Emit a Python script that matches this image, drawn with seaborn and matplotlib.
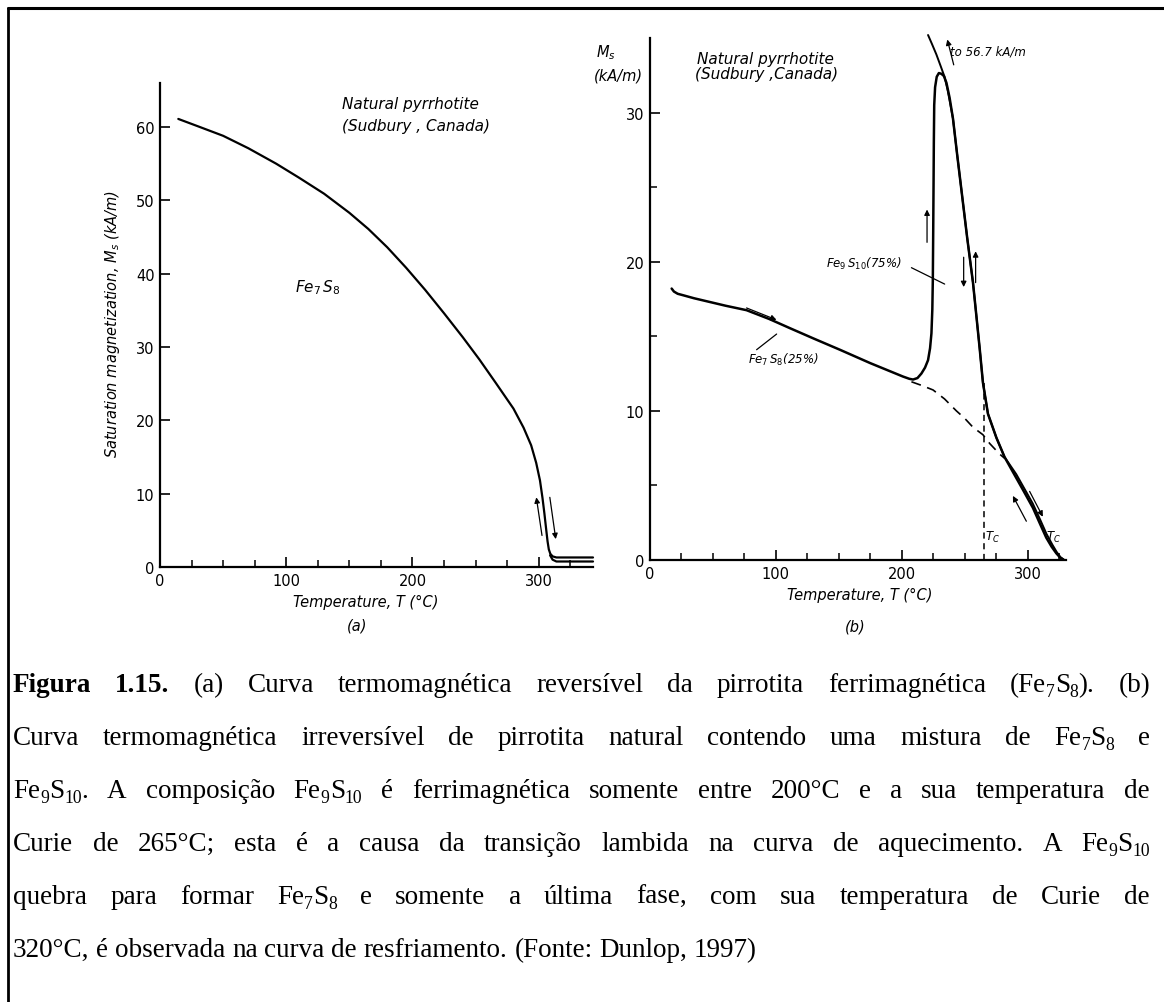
import re
import numpy as np
import pandas as pd
import matplotlib
matplotlib.use("Agg")
import matplotlib.pyplot as plt
from matplotlib.lines import Line2D
import seaborn as sns

sns.set_theme(style="ticks")
plt.rcParams['font.family'] = ['DejaVu Sans']
plt.rcParams['mathtext.fontset'] = 'dejavusans'

# ---------------- data: panel (a) ----------------
a_T = [14.5, 30, 50, 70, 92, 110, 130, 150, 165, 180, 195, 210, 225, 240, 253, 266,
       280, 288, 294, 298, 301, 303, 304.5, 305.8, 307, 308, 309.2, 311, 314, 320, 343]
a_M = [61.1, 60.1, 58.8, 57.1, 55.0, 53.1, 50.9, 48.3, 46.1, 43.6, 40.8, 37.8, 34.6,
       31.3, 28.3, 25.1, 21.6, 19.0, 16.6, 14.2, 11.8, 9.4, 7.3, 5.3, 3.5, 2.4, 1.8,
       1.45, 1.3, 1.3, 1.3]
a_cool_T = [309, 311, 314, 343]
a_cool_M = [1.6, 1.0, 0.75, 0.75]

# ---------------- data: panel (b) ----------------
b_heat_T = [17.2, 19, 22, 26.4, 35, 45, 60, 76.7, 95, 111, 130, 150.8, 175, 201, 206,
            209, 212.5, 215.6, 218.5, 220.9, 222.5, 223.6, 224.3, 224.7, 225.0, 225.3,
            225.5, 225.8, 226.5, 227.8, 229.5, 231.5, 233.5, 235.5, 238, 240.7, 244,
            248, 252, 256.6, 259.5, 261.9, 264.5, 268.5, 275.2, 281.7, 291, 297, 304.2,
            310, 314.8, 319, 322.8, 326, 328.5]
b_heat_M = [18.2, 18.0, 17.85, 17.75, 17.55, 17.35, 17.05, 16.75, 16.15, 15.55, 14.85,
            14.1, 13.2, 12.3, 12.15, 12.1, 12.2, 12.5, 12.9, 13.4, 14.2, 15.2, 16.8, 18.8,
            22.0, 25.5, 28.0, 30.5, 31.7, 32.4, 32.65, 32.6, 32.45, 32.0, 31.0, 29.6, 27.2,
            24.4, 21.6, 18.6, 16.2, 14.2, 11.9, 9.8, 8.2, 6.9, 5.5, 4.6, 3.5, 2.4, 1.5,
            0.9, 0.45, 0.15, 0.03]
b_cool_T = [220.9, 224, 227.5, 231, 234, 236.5, 238.5, 240.7, 244, 248, 252, 256.6,
            259.5, 261.9, 264.5, 268.5, 275.2, 281.7, 291, 297, 304, 310, 315, 319.5,
            323, 326, 328.5]
b_cool_M = [35.2, 34.6, 33.9, 33.1, 32.4, 31.5, 30.6, 29.6, 27.2, 24.4, 21.6, 18.6,
            16.2, 14.2, 11.9, 9.8, 8.2, 6.9, 5.75, 4.85, 3.8, 2.7, 1.75, 1.05, 0.55,
            0.2, 0.03]
b_dash_T = [207.7, 216, 224.9, 234, 243.4, 250, 256.6, 264.5, 270, 277.8, 282]
b_dash_M = [11.95, 11.7, 11.4, 10.8, 10.0, 9.5, 8.9, 8.4, 7.8, 7.1, 6.8]
b_tc_T = [265, 265]
b_tc_M = [0, 11.9]

# arrows (tail -> head)
a_arrows = [((302.6, 4.3), (298.1, 9.5)), ((308.8, 9.5), (313.5, 3.8))]
b_arrows = [((76.7, 16.9), (100.5, 16.1)), ((220.1, 21.3), (220.1, 23.5)),
            ((249.2, 20.3), (249.2, 18.3)), ((258.7, 18.6), (258.7, 20.7)),
            ((241.3, 33.2), (236.2, 34.9)), ((299.0, 2.6), (288.3, 4.3)),
            ((301.6, 4.6), (312.1, 2.9))]
b_leaders = [((84.7, 14.1), (100.6, 15.15)), ((207.7, 19.6), (234.1, 18.5))]

caption_lines = [
    "Figura 1.15. (a) Curva termomagnética reversível da pirrotita ferrimagnética (Fe_7S_8). (b)",
    "Curva termomagnética irreversível de pirrotita natural contendo uma mistura de Fe_7S_8 e",
    "Fe_9S_10. A composição Fe_9S_10 é ferrimagnética somente entre 200°C e a sua temperatura de",
    "Curie de 265°C; esta é a causa da transição lambida na curva de aquecimento. A Fe_9S_10",
    "quebra para formar Fe_7S_8 e somente a última fase, com sua temperatura de Curie de",
    "320°C, é observada na curva de resfriamento. (Fonte: Dunlop, 1997)",
]

W, H = 1164, 1003
fig = plt.figure(figsize=(W / 100, H / 100), dpi=100)
fig.patch.set_facecolor('white')


def px_axes(x0, x1, y_top, y_bot):
    return fig.add_axes([x0 / W, 1 - y_bot / H, (x1 - x0) / W, (y_bot - y_top) / H])


def fpos(x, y):
    return x / W, 1 - y / H


axa = px_axes(160, 593, 84, 568)
axb = px_axes(650, 1066, 39, 561)

LW = 1.6
# panel a curves
sns.lineplot(data=pd.DataFrame({'T': a_T, 'M': a_M}), x='T', y='M', sort=False,
             estimator=None, ax=axa, color='black', lw=LW)
sns.lineplot(data=pd.DataFrame({'T': a_cool_T, 'M': a_cool_M}), x='T', y='M', sort=False,
             estimator=None, ax=axa, color='black', lw=LW)
# panel b curves
sns.lineplot(data=pd.DataFrame({'T': b_heat_T, 'M': b_heat_M}), x='T', y='M', sort=False,
             estimator=None, ax=axb, color='black', lw=1.8)
sns.lineplot(data=pd.DataFrame({'T': b_cool_T, 'M': b_cool_M}), x='T', y='M', sort=False,
             estimator=None, ax=axb, color='black', lw=1.4)
sns.lineplot(data=pd.DataFrame({'T': b_dash_T, 'M': b_dash_M}), x='T', y='M', sort=False,
             estimator=None, ax=axb, color='black', lw=1.2)
axb.lines[-1].set_dashes((6, 4))
sns.lineplot(data=pd.DataFrame({'T': b_tc_T, 'M': b_tc_M}), x='T', y='M', sort=False,
             estimator=None, ax=axb, color='black', lw=1.1)
axb.lines[-1].set_dashes((4, 3))
for ax in (axa, axb):
    for ln in ax.lines:
        ln.set_clip_on(False)
        ln.set_solid_joinstyle('round')
        ln.set_solid_capstyle('round')

for ax, xr, yr in [(axa, 343, 66), (axb, 330.5, 35)]:
    ax.set_xlim(0, xr)
    ax.set_ylim(0, yr)
    ax.set_facecolor('white')
    for s in ['top', 'right']:
        ax.spines[s].set_visible(False)
    for s in ['left', 'bottom']:
        ax.spines[s].set_color('black')
        ax.spines[s].set_linewidth(1.6)
    ax.set_xlabel('')
    ax.set_ylabel('')
    ax.set_xticks([0, 100, 200, 300])
    ax.set_xticks([25, 50, 75, 125, 150, 175, 225, 250, 275, 325], minor=True)
    ax.tick_params(which='both', direction='in', colors='black', bottom=True, left=True,
                   top=False, right=False, labelsize=10.5, pad=4)
    ax.tick_params(which='major', length=7, width=1.2)
    ax.tick_params(which='minor', length=5, width=1.1)

axa.set_yticks([0, 10, 20, 30, 40, 50, 60])
axb.set_yticks([0, 10, 20, 30])
axb.set_yticks([5, 15, 25], minor=True)

# arrows
for ax, arrs in [(axa, a_arrows), (axb, b_arrows)]:
    for tail, head in arrs:
        ax.annotate('', xy=head, xytext=tail,
                    arrowprops=dict(arrowstyle='-|>', color='black', lw=0.9,
                                    mutation_scale=8, shrinkA=0, shrinkB=0))
for p0, p1 in b_leaders:
    axb.plot([p0[0], p1[0]], [p0[1], p1[1]], color='black', lw=0.9)

IT = dict(style='italic', color='black')
# panel a texts
axa.text(143.9, 63.2, 'Natural pyrrhotite', fontsize=11, va='center', ha='left', **IT)
axa.text(143.9, 60.2, '(Sudbury , Canada)', fontsize=11, va='center', ha='left', **IT)
axa.text(125, 38.2, r'$Fe_7\,S_8$', fontsize=11, va='center', ha='center', **IT)
fig.text(*fpos(366, 602), 'Temperature, T (°C)', fontsize=10.5, ha='center', va='center', **IT)
fig.text(*fpos(357, 626), '(a)', fontsize=10.5, ha='center', va='center', **IT)
fig.text(*fpos(113, 324), r'Saturation magnetization, $M_s$ (kA/m)', fontsize=10.5,
         rotation=90, ha='center', va='center', **IT)

# panel b texts
axb.text(37, 33.6, 'Natural pyrrhotite', fontsize=11, va='center', ha='left', **IT)
axb.text(35.7, 32.6, '(Sudbury ,Canada)', fontsize=11, va='center', ha='left', **IT)
axb.text(238, 34.1, 'to 56.7 kA/m', fontsize=8.5, va='center', ha='left', **IT)
axb.text(140.2, 19.95, r'$Fe_9\,S_{10}$(75%)', fontsize=8.5, va='center', ha='left', **IT)
axb.text(77.8, 13.5, r'$Fe_7\,S_8$(25%)', fontsize=8.5, va='center', ha='left', **IT)
axb.text(266.5, 1.6, r'$T_C$', fontsize=8.5, va='center', ha='left', **IT)
axb.text(314.5, 1.6, r'$T_C$', fontsize=8.5, va='center', ha='left', **IT)
fig.text(*fpos(860, 595), 'Temperature, T (°C)', fontsize=10.5, ha='center', va='center', **IT)
fig.text(*fpos(855, 627), '(b)', fontsize=10.5, ha='center', va='center', **IT)
fig.text(*fpos(606, 53), r'$M_s$', fontsize=10.5, ha='center', va='center', **IT)
fig.text(*fpos(618, 76), '(kA/m)', fontsize=10.5, ha='center', va='center', **IT)

# frame lines
fig.add_artist(Line2D([8 / W, 8 / W], [0, 1 - 8.7 / H], transform=fig.transFigure,
                      color='black', lw=2.0))
fig.add_artist(Line2D([8 / W, 1], [1 - 8.7 / H, 1 - 8.7 / H], transform=fig.transFigure,
                      color='black', lw=2.2))

# ---------------- caption, justified ----------------
CAP_FONT = 'Liberation Serif'
cap_fs = 19.5
sub_fs = cap_fs * 0.65
sub_off = 5.0  # px below baseline
x_left, x_right = 13, 1150
baselines = [692, 745, 798, 851, 904, 957]
renderer = fig.canvas.get_renderer()
space_px = 0.25 * cap_fs * 100 / 72

for li, line in enumerate(caption_lines):
    words = line.split(' ')
    word_items = []
    for wi, w in enumerate(words):
        bold = (li == 0 and wi < 2)
        segs = [s for s in re.split(r'(_\d+)', w) if s]
        items = []
        for s in segs:
            is_sub = s.startswith('_')
            t = fig.text(0, 0, s[1:] if is_sub else s,
                         fontsize=sub_fs if is_sub else cap_fs, family=CAP_FONT,
                         weight='bold' if bold else 'normal', color='black',
                         ha='left', va='baseline')
            items.append((t, t.get_window_extent(renderer).width, is_sub))
        word_items.append(items)
    widths = [sum(i[1] for i in items) for items in word_items]
    total = sum(widths)
    if li < len(caption_lines) - 1:
        gap = (x_right - x_left - total) / (len(words) - 1)
    else:
        gap = space_px
    x = x_left
    for items in word_items:
        for t, w, is_sub in items:
            yb = baselines[li] + (sub_off if is_sub else 0)
            t.set_position(fpos(x, yb))
            x += w
        x += gap

fig.savefig('out.png', dpi=100, facecolor='white')
